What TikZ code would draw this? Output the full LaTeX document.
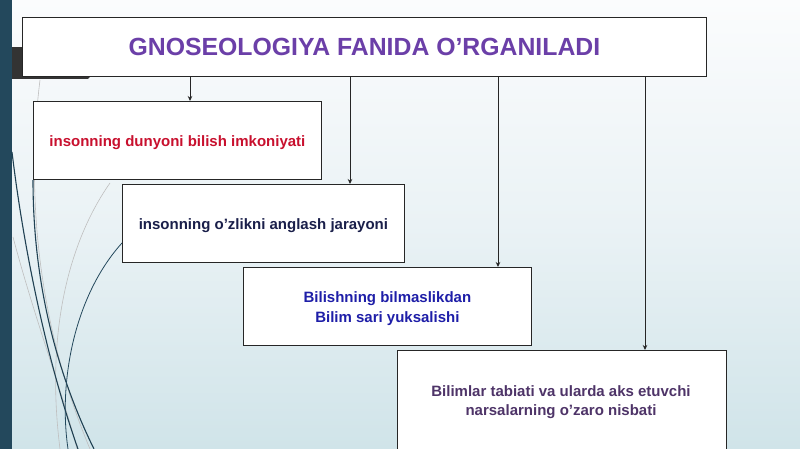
\documentclass[tikz,border=0pt]{standalone}
\usepackage{fontspec}
\setmainfont{Liberation Sans}
\usetikzlibrary{arrows.meta}
\definecolor{titlec}{HTML}{6B3FA8}
\definecolor{redc}{HTML}{C8102E}
\definecolor{navyc}{HTML}{1A1F4A}
\definecolor{bluec}{HTML}{1E1EA8}
\definecolor{purpc}{HTML}{4E3468}
\definecolor{tealbar}{HTML}{23485C}
\definecolor{bgtop}{HTML}{FBFCFD}
\definecolor{bgmid}{HTML}{EAF2F5}
\definecolor{bgbot}{HTML}{D0E4E9}
\tikzset{
  box/.style={draw=black!85, line width=0.8pt, fill=white, inner sep=0pt, font=\bfseries},
  conn/.style={draw=black!85, line width=0.9pt, -{Stealth[length=5pt,width=4.5pt]}},
  deco/.style={draw=tealbar!90!black, line width=1.1pt},
  decol/.style={draw=black!25, line width=0.6pt},
  txt/.style={font=\bfseries\fontsize{15}{19.5}\selectfont, align=center},
}
\begin{document}
\begin{tikzpicture}[x=1pt,y=-1pt]
\useasboundingbox (0,0) rectangle (800,449);
% background
\shade[top color=bgtop, bottom color=bgbot, middle color=bgmid] (0,0) rectangle (800,449);
\fill[tealbar] (0,0) rectangle (12,449);
% decorative curves
\draw[decol] (40,80) .. controls (25,200) and (40,330) .. (90,449);
\draw[decol] (110,183) .. controls (70,240) and (45,330) .. (60,449);
\draw[decol] (13,237) .. controls (35,320) and (65,400) .. (77,449);
\draw[deco] (12,152) .. controls (25,260) and (50,370) .. (78,449);
\draw[deco] (33,180) .. controls (33,290) and (60,380) .. (94,449);
\draw[draw=tealbar, line width=0.8pt] (122,243) .. controls (75,295) and (58,380) .. (68,449);
% dark tab
\fill[black!80] (12,47) rectangle (40,77);
\fill[black!80] (12,75) -- (92,75) -- (88,79) -- (12,79) -- cycle;
% title
\node[box, minimum width=684pt, minimum height=59pt, anchor=north west, font=\bfseries\fontsize{24.8}{28}\selectfont, text=titlec] (title) at (22,17) {GNOSEOLOGIYA FANIDA O’RGANILADI};
% boxes
\node[box, minimum width=288pt, minimum height=78pt, anchor=north west] (b1) at (33,101) {};
\node[txt, text=redc] (b1t) at ([yshift=-2pt]b1.center) {insonning dunyoni bilish imkoniyati};
\node[box, minimum width=282pt, minimum height=78pt, anchor=north west] (b2) at (122,184) {};
\node[txt, text=navyc] (b2t) at ([yshift=-2pt]b2.center) {insonning o’zlikni anglash jarayoni};
\node[box, minimum width=288pt, minimum height=78pt, anchor=north west] (b3) at (243,267) {};
\node[txt, text=bluec] (b3t) at ([yshift=-2pt]b3.center) {Bilishning bilmaslikdan\\Bilim sari yuksalishi};
\node[box, minimum width=329pt, minimum height=110pt, anchor=north west] (b4) at (397,350) {};
\node[txt, text=purpc] (b4t) at (561,402) {Bilimlar tabiati va ularda aks etuvchi\\narsalarning o’zaro nisbati};
% connectors
\draw[conn] (title.south -| 190,0) -- (b1.north -| 190,0);
\draw[conn] (title.south -| 350,0) -- (b2.north -| 350,0);
\draw[conn] (title.south -| 498,0) -- (b3.north -| 498,0);
\draw[conn] (title.south -| 645,0) -- (b4.north -| 645,0);
\end{tikzpicture}
\end{document}
